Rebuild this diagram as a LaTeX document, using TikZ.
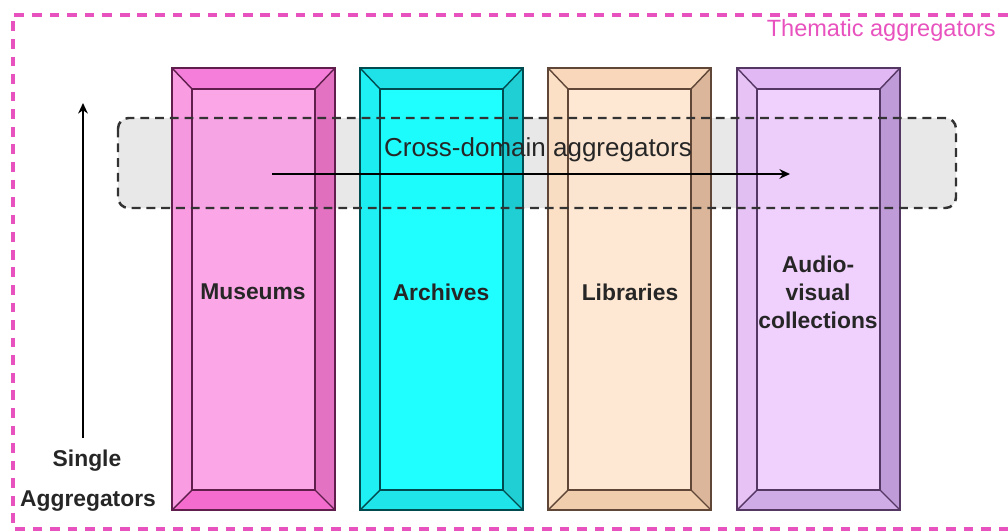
\documentclass[tikz,border=0pt]{standalone}
\usepackage{fontspec}
\setmainfont{Liberation Sans}
\usetikzlibrary{arrows.meta}

\definecolor{thematic}{RGB}{232,82,190}
\definecolor{musface}{RGB}{250,155,228}  \definecolor{musleft}{RGB}{248,142,222}
\definecolor{mustop}{RGB}{243,108,212}   \definecolor{musright}{RGB}{224,95,185}
\definecolor{musbottom}{RGB}{244,88,200} \definecolor{musedge}{RGB}{95,30,75}
\definecolor{arcface}{RGB}{0,255,255}    \definecolor{arcleft}{RGB}{0,238,242}
\definecolor{arctop}{RGB}{0,222,230}     \definecolor{arcright}{RGB}{0,200,206}
\definecolor{arcbottom}{RGB}{0,224,230}  \definecolor{arcedge}{RGB}{0,75,80}
\definecolor{libface}{RGB}{255,229,205}  \definecolor{libleft}{RGB}{252,220,190}
\definecolor{libtop}{RGB}{248,210,176}   \definecolor{libright}{RGB}{214,172,140}
\definecolor{libbottom}{RGB}{238,198,162}\definecolor{libedge}{RGB}{95,70,55}
\definecolor{audface}{RGB}{238,202,252}  \definecolor{audleft}{RGB}{226,186,244}
\definecolor{audtop}{RGB}{222,174,242}   \definecolor{audright}{RGB}{182,142,210}
\definecolor{audbottom}{RGB}{202,160,228}\definecolor{audedge}{RGB}{85,55,100}
\definecolor{bandfill}{RGB}{232,232,232}

\tikzset{
  pillarlabel/.style={font=\fontsize{13}{15.9}\selectfont\bfseries, text=black!85, align=center},
  band/.style={rounded corners=6pt, line width=1.4pt, dash pattern=on 5pt off 3.4pt, black!80},
  flow/.style={line width=1.3pt, -{Stealth[length=6pt,width=5.5pt]}}
}

\begin{document}
\begin{tikzpicture}[x=0.02cm, y=-0.02cm]
    \useasboundingbox (0,0) rectangle (1008,531);

    % Thematic frame (open at the right)
    \draw[thematic, line width=1.8pt, dash pattern=on 5.5pt off 4.5pt]
        (1008,15) -- (13,15) -- (13,529) -- (1008,529);
    \node[thematic, anchor=base east, font=\fontsize{13.4}{16}\selectfont] (thematic) at (1002,36) {Thematic aggregators};

    % Cross-domain band behind the pillars
    \fill[bandfill, rounded corners=6pt] (118,118) rectangle (956,208);

    % Pillars
    \foreach \x/\nm in {172/mus, 360/arc, 548/lib, 737/aud} {
        \coordinate (o1) at (\x,68);       \coordinate (o2) at ({\x+163},68);
        \coordinate (o3) at ({\x+163},510); \coordinate (o4) at (\x,510);
        \coordinate (i1) at ({\x+20},89);  \coordinate (i2) at ({\x+143},89);
        \coordinate (i3) at ({\x+143},490); \coordinate (i4) at ({\x+20},490);
        \begin{scope}[fill opacity=0.88]
            \fill[\nm face] (i1) rectangle (i3);
            \fill[\nm left] (o1)--(i1)--(i4)--(o4)--cycle;
            \fill[\nm top] (o1)--(o2)--(i2)--(i1)--cycle;
            \fill[\nm right] (o2)--(o3)--(i3)--(i2)--cycle;
            \fill[\nm bottom] (o4)--(i4)--(i3)--(o3)--cycle;
        \end{scope}
        \draw[\nm edge, line width=0.8pt] (o1)--(o2)--(o3)--(o4)--cycle (i1)--(i2)--(i3)--(i4)--cycle;
        \draw[\nm edge, line width=0.8pt] (o1)--(i1) (o2)--(i2) (o3)--(i3) (o4)--(i4);
    }

    % Band outline over the pillars
    \draw[band] (118,118) rectangle (956,208);
    \node[font=\fontsize{14.8}{18}\selectfont, text=black!85] (crossdomain) at (538,150) {Cross-domain aggregators};

    \coordinate (hstart) at (272,174); \coordinate (hend) at (790,174);
    \draw[flow] (hstart) -- (hend);

    \node[pillarlabel] (museums) at (253,292) {Museums};
    \node[pillarlabel] (archives) at (441,292) {Archives};
    \node[pillarlabel] (libraries) at (630,292) {Libraries};
    \node[pillarlabel] (audio) at (818,292) {Audio-\\visual\\collections};

    % Single aggregators
    \node[pillarlabel] (single) at (87,461) {Single};
    \node[pillarlabel] (aggregators) at (88,501) {Aggregators};
    \coordinate (vtop) at (83,103);
    \draw[flow] (83,438) -- (vtop);
\end{tikzpicture}
\end{document}
